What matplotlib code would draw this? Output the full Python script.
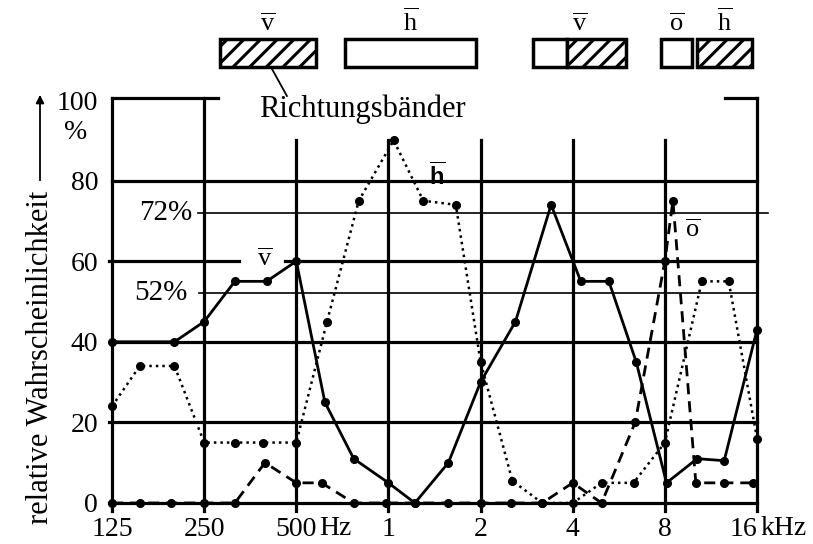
import matplotlib.pyplot as plt
from matplotlib.patches import Rectangle
from matplotlib.ticker import NullLocator

plt.rcParams['font.family'] = ['Liberation Serif', 'DejaVu Serif']
plt.rcParams['mathtext.fontset'] = 'custom'
plt.rcParams['mathtext.rm'] = 'Liberation Serif'
plt.rcParams['mathtext.bf'] = 'Liberation Sans:bold'
plt.rcParams['hatch.linewidth'] = 2.2

# vorne (durchgezogen)
freq_v = [125, 200, 250, 315, 400, 500, 620, 770, 1000, 1220, 1570, 2000, 2600,
          3400, 4250, 5250, 6450, 8100, 10200, 12500, 16000]
val_v = [40, 40, 45, 55, 55, 60, 25, 11, 5, 0, 10, 30, 45,
         74, 55, 55, 35, 5, 11, 10.5, 43]

# hinten (punktiert)
freq_h = [125, 154, 200, 250, 315, 390, 500, 630, 800, 1040, 1300, 1660, 2000,
          2540, 3180, 4000, 4970, 6320, 8000, 10560, 12930, 16000]
val_h = [24, 34, 34, 15, 15, 15, 15, 45, 75, 90, 75, 74, 35,
         5.5, 0, 0, 5, 5, 15, 55, 55, 16]

# oben (gestrichelt)
freq_o = [125, 154, 195, 250, 315, 395, 500, 605, 770, 980, 1220, 1570, 2000,
          2520, 3180, 4000, 4970, 6400, 8000, 8500, 10100, 12500, 15500]
val_o = [0, 0, 0, 0, 0, 10, 5, 5, 0, 0, 0, 0, 0,
         0, 0, 5, 0, 20, 60, 75, 5, 5, 5]

tick_freqs = [125, 250, 500, 1000, 2000, 4000, 8000, 16000]
tick_labels = ['125', '250', '500', '1', '2', '4', '8', '16']
y_ticks = [0, 20, 40, 60, 80, 100]

# Richtungsbänder: (von Hz, bis Hz, schraffiert)
band_boxes = [(282, 580, True), (721, 1932, False), (2968, 3832, False),
              (3832, 5973, True), (7770, 9815, False), (10190, 15410, True)]
band_labels = [(404, r'$\overline{\mathrm{v}}$'), (1180, r'$\overline{\mathrm{h}}$'),
               (4210, r'$\overline{\mathrm{v}}$'), (8730, r'$\overline{\mathrm{o}}$'),
               (12530, r'$\overline{\mathrm{h}}$')]

fig = plt.figure(figsize=(8.13, 5.44), dpi=100)
ax = fig.add_axes([112 / 813, 41 / 544, 645 / 813, 403 / 544])
ax.set_xscale('log', base=2)
ax.set_xlim(125, 16000)
ax.set_ylim(0, 100)
for s in ax.spines.values():
    s.set_visible(False)

thick = 2.3
thin = 1.2
k = 'black'

# Raster
ax.plot([125, 278], [100.5, 100.5], color=k, lw=thick, clip_on=False)
ax.plot([12570, 16000], [100.5, 100.5], color=k, lw=thick, clip_on=False)
ax.plot([125, 16000], [80, 80], color=k, lw=thick, clip_on=False)
ax.plot([238, 17400], [72, 72], color=k, lw=thin, clip_on=False)
ax.plot([121.9, 326], [60, 60], color=k, lw=thick, clip_on=False)
ax.plot([458, 16000], [60, 60], color=k, lw=thick, clip_on=False)
ax.plot([241, 16000], [52, 52], color=k, lw=thin, clip_on=False)
ax.plot([125, 16000], [40, 40], color=k, lw=thick, clip_on=False)
ax.plot([121.9, 16000], [20, 20], color=k, lw=thick, clip_on=False)
ax.plot([121.9, 16000], [0, 0], color=k, lw=thick, clip_on=False)
for f in tick_freqs:
    top = 100.5 if f in (125, 250, 16000) else 90
    ax.plot([f, f], [-2, top], color=k, lw=thick, clip_on=False)

# Kurven
ax.plot(freq_v, val_v, '-', color=k, lw=2, marker='o', ms=5.5, clip_on=False)
ax.plot(freq_h, val_h, color=k, lw=1.8, linestyle=(0, (1, 1.6)),
        marker='o', ms=5.5, clip_on=False)
ax.plot(freq_o, val_o, color=k, lw=2, linestyle=(0, (4, 2.5)),
        marker='o', ms=5.5, clip_on=False)

ax.text(229, 72, '72%', ha='right', va='center', fontsize=21)
ax.text(221, 52, '52%', ha='right', va='center', fontsize=21)
ax.text(394, 60.5, r'$\overline{\mathrm{v}}$', ha='center', va='center', fontsize=19)
ax.text(1444, 81, r'$\overline{\mathbf{h}}$', ha='center', va='center', fontsize=17)
ax.text(9866, 67.5, r'$\overline{\mathrm{o}}$', ha='center', va='center', fontsize=19)

# Richtungsbänder oben
for f0, f1, hatched in band_boxes:
    ax.add_patch(Rectangle((f0, 108.2), f1 - f0, 7.0, facecolor='white', edgecolor=k,
                           lw=2.5, hatch='//' if hatched else None, clip_on=False))
for f, lab in band_labels:
    ax.text(f, 116, lab, ha='center', va='bottom', fontsize=19)
ax.plot([413, 466], [108.2, 101], color=k, lw=1.3, clip_on=False)
ax.text(820, 97.8, 'Richtungsbänder', ha='center', va='center', fontsize=22)

# Achsen
ax.set_xticks(tick_freqs, tick_labels)
ax.xaxis.set_minor_locator(NullLocator())
ax.set_yticks(y_ticks)
ax.tick_params(length=0, labelsize=20)
ax.tick_params(axis='x', pad=10)
ax.tick_params(axis='y', pad=10)
ax.get_xticklabels()[-1].set_ha('right')
ax.text(592, -6.4, 'Hz', ha='left', va='center', fontsize=20)
ax.text(16450, -6.4, 'kHz', ha='left', va='center', fontsize=20)
ax.text(95, 92, '%', ha='center', va='center', fontsize=20)

fig.text(40 / 813, 1 - 357 / 544, 'relative Wahrscheinlichkeit', rotation=90,
         ha='center', va='center', fontsize=22)
fig.add_artist(plt.Line2D([40 / 813, 40 / 813], [1 - 180 / 544, 1 - 104 / 544],
                          color=k, lw=1.3))
ax.annotate('', xy=(40 / 813, 1 - 92 / 544), xytext=(40 / 813, 1 - 106 / 544),
            xycoords='figure fraction',
            arrowprops=dict(arrowstyle='-|>', color=k, lw=1.3, mutation_scale=12))

fig.savefig('out.png', dpi=100)
